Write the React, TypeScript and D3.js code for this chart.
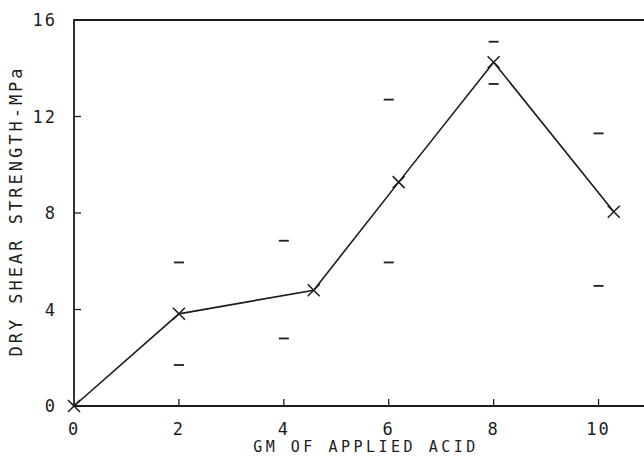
import React, { useRef, useEffect } from 'react';
import * as d3 from 'd3';

// mean values (X markers joined by the line)
const meanX = [0, 2, 4.57, 6.19, 8, 10.29];
const meanY = [0, 3.82, 4.8, 9.28, 14.25, 8.05];

// spread marks (short dashes), high and low
const rangeX = [2, 4, 6, 8, 10];
const rangeHigh = [5.95, 6.85, 12.7, 15.1, 11.3];
const rangeLow = [1.7, 2.8, 5.95, 13.35, 4.98];

const xTicks = [0, 2, 4, 6, 8, 10];
const yTicks = [0, 4, 8, 12, 16];

const App = () => {
  const ref = useRef(null);

  useEffect(() => {
    if (!ref.current) return;
    d3.select(ref.current).selectAll('*').remove();

    const width = 644;
    const height = 457;
    const ink = '#1c1c1c';
    const font = '"DejaVu Sans Mono", monospace';

    const svg = d3.select(ref.current)
      .append('svg')
      .attr('width', width)
      .attr('height', height)
      .style('display', 'block')
      .style('background', '#fff');

    const x = d3.scaleLinear().domain([0, 11]).range([74, 651]);
    const y = d3.scaleLinear().domain([0, 16]).range([406, 20]);

    // frame
    svg.append('path')
      .attr('d', `M${x(11)},${y(16)}H${x(0)}V${y(0)}H${x(11)}`)
      .attr('fill', 'none')
      .attr('stroke', ink)
      .attr('stroke-width', 1.8);

    // ticks (inward)
    svg.selectAll('line.xt')
      .data(xTicks.filter(d => d > 0))
      .join('line')
      .attr('x1', d => x(d)).attr('x2', d => x(d))
      .attr('y1', y(0)).attr('y2', y(0) - 7)
      .attr('stroke', ink).attr('stroke-width', 1.3);

    svg.selectAll('line.yt')
      .data(yTicks.filter(d => d > 0 && d < 16))
      .join('line')
      .attr('x1', x(0)).attr('x2', x(0) + 7)
      .attr('y1', d => y(d)).attr('y2', d => y(d))
      .attr('stroke', ink).attr('stroke-width', 1.3);

    // tick labels
    svg.selectAll('text.xl')
      .data(xTicks)
      .join('text')
      .attr('x', d => x(d))
      .attr('y', 435)
      .attr('text-anchor', 'middle')
      .attr('font-family', font)
      .attr('font-size', 17)
      .attr('letter-spacing', 2)
      .attr('fill', ink)
      .text(d => d);

    svg.selectAll('text.yl')
      .data(yTicks)
      .join('text')
      .attr('x', 57)
      .attr('y', d => y(d) + 6)
      .attr('text-anchor', 'end')
      .attr('font-family', font)
      .attr('font-size', 17)
      .attr('letter-spacing', 2)
      .attr('fill', ink)
      .text(d => d);

    // axis titles
    svg.append('text')
      .attr('x', 366)
      .attr('y', 452)
      .attr('text-anchor', 'middle')
      .attr('font-family', font)
      .attr('font-size', 15)
      .attr('letter-spacing', 3.5)
      .attr('fill', ink)
      .text('GM OF APPLIED ACID');

    svg.append('text')
      .attr('transform', `translate(22,211) rotate(-90)`)
      .attr('text-anchor', 'middle')
      .attr('font-family', font)
      .attr('font-size', 17)
      .attr('letter-spacing', 3)
      .attr('fill', ink)
      .text('DRY SHEAR STRENGTH-MPa');

    // mean line
    const pts = meanX.map((d, i) => [d, meanY[i]]);
    svg.append('path')
      .attr('d', d3.line().x(d => x(d[0])).y(d => y(d[1]))(pts))
      .attr('fill', 'none')
      .attr('stroke', ink)
      .attr('stroke-width', 1.6);

    // X markers
    const s = 6;
    svg.selectAll('path.mk')
      .data(pts)
      .join('path')
      .attr('d', d => {
        const cx = x(d[0]), cy = y(d[1]);
        return `M${cx - s},${cy - s}L${cx + s},${cy + s}M${cx - s},${cy + s}L${cx + s},${cy - s}`;
      })
      .attr('stroke', ink)
      .attr('stroke-width', 1.5);

    // spread dashes
    const dashes = rangeX.flatMap((d, i) => [[d, rangeHigh[i]], [d, rangeLow[i]]]);
    svg.selectAll('line.ds')
      .data(dashes)
      .join('line')
      .attr('x1', d => x(d[0]) - 5).attr('x2', d => x(d[0]) + 5)
      .attr('y1', d => y(d[1])).attr('y2', d => y(d[1]))
      .attr('stroke', ink)
      .attr('stroke-width', 1.8);
  }, []);

  return <div ref={ref} style={{ position: 'absolute', top: 0, left: 0, overflow: 'hidden' }} />;
};

export default App;
